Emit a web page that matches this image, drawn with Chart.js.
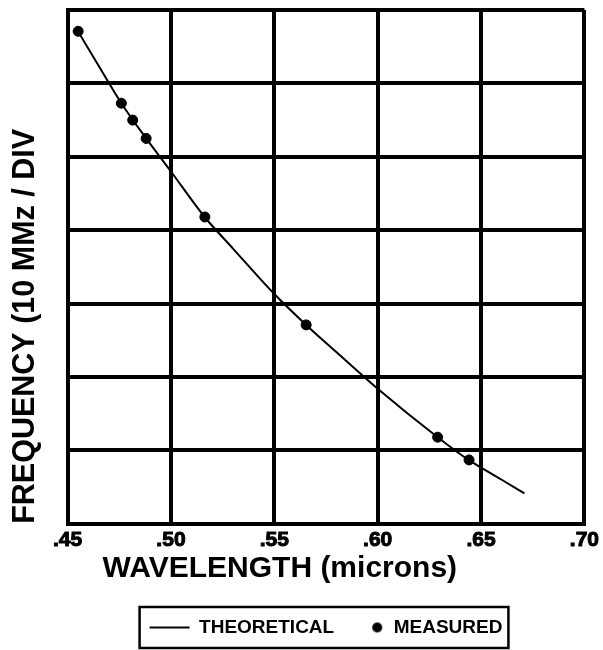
<!DOCTYPE html>
<html><head><meta charset="utf-8">
<script src="https://cdn.jsdelivr.net/npm/chart.js@4.4.1/dist/chart.umd.min.js"></script>
<style>html,body{margin:0;padding:0;background:#fff;}#wrap{width:603px;height:650px;}</style>
</head><body><div id="wrap"><canvas id="c" width="603" height="650"></canvas></div>
<script>
const xTickValues = [0.45, 0.50, 0.55, 0.60, 0.65, 0.70];
const xTickLabels = ['.45', '.50', '.55', '.60', '.65', '.70'];
const yTickValues = [0, 1, 2, 3, 4, 5, 6, 7];
const theoryWavelength = [0.455, 0.465, 0.476, 0.488, 0.500, 0.516, 0.530, 0.550, 0.565, 0.580, 0.600, 0.629, 0.644, 0.660, 0.671];
const theoryFrequency  = [6.71, 6.24, 5.73, 5.25, 4.80, 4.19, 3.75, 3.13, 2.72, 2.34, 1.84, 1.18, 0.87, 0.60, 0.415];
const measuredWavelength = [0.4551, 0.4760, 0.4815, 0.4880, 0.5164, 0.5654, 0.6290, 0.6442];
const measuredFrequency  = [6.71, 5.73, 5.50, 5.25, 4.18, 2.71, 1.18, 0.87];
const legendLabels = ['THEORETICAL', 'MEASURED'];
const xTitle = 'WAVELENGTH (microns)';
const yTitle = 'FREQUENCY (10 MMz / DIV';

const FONT = '"Liberation Sans", Arial, sans-serif';

const dot = document.createElement('canvas');
dot.width = 40; dot.height = 12;
(function(){ const g = dot.getContext('2d'); g.fillStyle = '#000'; g.beginPath(); g.arc(33, 6, 5, 0, Math.PI * 2); g.fill(); })();

const xTitlePlugin = {
  id: 'xTitleText',
  afterDraw(chart) {
    const {ctx, chartArea} = chart;
    ctx.save();
    ctx.font = 'bold 30px ' + FONT;
    ctx.fillStyle = '#000';
    ctx.textAlign = 'left';
    ctx.textBaseline = 'alphabetic';
    ctx.fillText(xTitle, chartArea.left + 35, chartArea.bottom + 53);
    ctx.restore();
  }
};
const legendBoxPlugin = {
  id: 'legendBox',
  afterDraw(chart) {
    const boxes = chart.legend && chart.legend.legendHitBoxes;
    if (!boxes || !boxes.length) return;
    let l = Infinity, r = -Infinity;
    boxes.forEach(b => { l = Math.min(l, b.left); r = Math.max(r, b.left + b.width); });
    const cy = boxes[0].top + boxes[0].height / 2;
    const ctx = chart.ctx;
    ctx.save();
    ctx.strokeStyle = '#000';
    ctx.lineWidth = 2.5;
    ctx.strokeRect(l - 10, cy - 20.5, r - l + 16, 41);
    ctx.restore();
  }
};

new Chart(document.getElementById('c'), {
  data: {
    datasets: [
      {
        type: 'line',
        label: legendLabels[0],
        data: theoryWavelength.map((x, i) => ({x, y: theoryFrequency[i]})),
        borderColor: '#000',
        borderWidth: 2,
        pointRadius: 0,
        fill: false,
        cubicInterpolationMode: 'monotone',
        order: 2
      },
      {
        type: 'scatter',
        label: legendLabels[1],
        data: measuredWavelength.map((x, i) => ({x, y: measuredFrequency[i]})),
        backgroundColor: '#000',
        borderColor: '#000',
        pointRadius: 5,
        pointHoverRadius: 5,
        order: 1
      }
    ]
  },
  options: {
    responsive: false,
    devicePixelRatio: 1,
    animation: false,
    layout: {padding: {top: 10, right: 14, left: 0, bottom: 3}},
    plugins: {
      tooltip: {enabled: false},
      legend: {
        position: 'bottom',
        fullSize: false,
        labels: {
          usePointStyle: true,
          pointStyleWidth: 40,
          padding: 10,
          color: '#000',
          font: {family: FONT, size: 19, weight: 'bold'},
          generateLabels: () => [
            {text: legendLabels[0], pointStyle: 'line', strokeStyle: '#000', fillStyle: '#000', lineWidth: 2, fontColor: '#000', hidden: false, datasetIndex: 0},
            {text: legendLabels[1], pointStyle: dot, strokeStyle: '#000', fillStyle: '#000', lineWidth: 0, fontColor: '#000', hidden: false, datasetIndex: 1}
          ]
        }
      }
    },
    scales: {
      x: {
        type: 'linear',
        min: 0.45, max: 0.70,
        afterBuildTicks: s => { s.ticks = xTickValues.map(v => ({value: v})); },
        afterFit: s => { s.height += 51; },
        grid: {color: '#000', lineWidth: 4, drawTicks: false},
        border: {color: '#000', width: 4},
        ticks: {
          color: '#000', padding: 4, maxRotation: 0, minRotation: 0, autoSkip: false,
          textStrokeColor: '#000', textStrokeWidth: 1,
          font: {family: FONT, size: 21, weight: 'bold'},
          callback: (v, i) => xTickLabels[i]
        }
      },
      y: {
        type: 'linear',
        min: 0, max: 7,
        afterBuildTicks: s => { s.ticks = yTickValues.map(v => ({value: v})); },
        grid: {color: '#000', lineWidth: 4, drawTicks: false},
        border: {color: '#000', width: 4},
        ticks: {display: false},
        title: {
          display: true, text: yTitle, align: 'start', color: '#000',
          font: {family: FONT, size: 30.5, weight: 'bold'},
          padding: {top: 7, bottom: 24}
        }
      }
    }
  },
  plugins: [xTitlePlugin, legendBoxPlugin]
});
</script></body></html>
